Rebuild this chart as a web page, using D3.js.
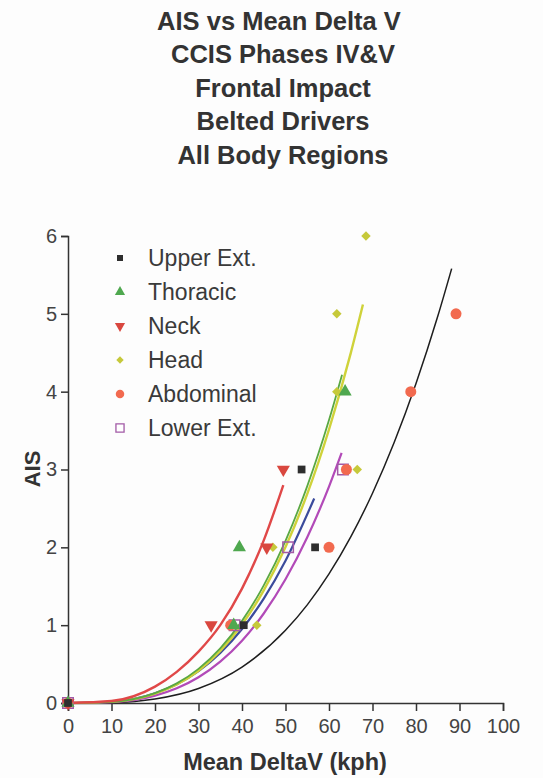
<!DOCTYPE html>
<html><head><meta charset="utf-8">
<script src="https://cdn.jsdelivr.net/npm/d3@7"></script>
<style>
body{margin:0;background:#fdfdfd;}
svg{display:block;font-family:"Liberation Sans",Arial,sans-serif;}
</style></head>
<body><svg id="c" width="543" height="778"></svg>
<script>
const titleLines = ["AIS vs Mean Delta V","CCIS Phases IV&V","Frontal Impact","Belted Drivers","All Body Regions"];
const xTicks = [0,10,20,30,40,50,60,70,80,90,100];
const yTicks = [0,1,2,3,4,5,6];
const seriesNames = ["Upper Ext.","Thoracic","Neck","Head","Abdominal","Lower Ext."];

// observed points (Mean DeltaV, AIS)
const upperExtV = [0, 40.4, 56.8, 53.7];
const upperExtAIS = [0, 1, 2, 3];
const thoracicV = [0, 38.1, 39.4, 63.7];
const thoracicAIS = [0, 1, 2, 4];
const neckV = [0, 32.9, 45.7, 49.5];
const neckAIS = [0, 1, 2, 3];
const headV = [0, 43.4, 47.1, 66.5, 61.8, 61.8, 68.5];
const headAIS = [0, 1, 2, 3, 4, 5, 6];
const abdominalV = [0, 37.4, 60.0, 64.0, 78.8, 89.2];
const abdominalAIS = [0, 1, 2, 3, 4, 5];
const lowerExtV = [0, 38.3, 50.6, 63.2];
const lowerExtAIS = [0, 1, 2, 3];

// fitted curves
const neckFitV = [0,10,20,25,30,35,40,45,49.5];
const neckFitAIS = [0,0.025,0.21,0.40,0.66,1.0,1.47,2.09,2.80];
const thoracicFitV = [0,10,20,25,30,35,40,45,50,55,60,63];
const thoracicFitAIS = [0,0.015,0.127,0.252,0.439,0.702,1.055,1.511,2.084,2.787,3.635,4.218];
const headFitV = [0,10,20,25,30,35,40,45,50,55,60,65,67.8];
const headFitAIS = [0,0.014,0.119,0.237,0.415,0.668,1.008,1.448,2.004,2.687,3.514,4.495,5.119];
const upperFitV = [0,10,20,25,30,35,40,45,50,56.6];
const upperFitAIS = [0,0.016,0.125,0.240,0.409,0.643,0.950,1.342,1.828,2.628];
const lowerFitV = [0,10,20,25,30,35,40,45,50,55,60,62.9];
const lowerFitAIS = [0,0.011,0.095,0.189,0.331,0.532,0.801,1.150,1.589,2.129,2.781,3.214];
const abdFitV = [0,10,20,30,40,50,55,60,65,70,75,80,85,88.2];
const abdFitAIS = [0,0.006,0.052,0.187,0.462,0.934,1.261,1.658,2.134,2.695,3.349,4.105,4.968,5.581];

const svg = d3.select("#c");
const x = d3.scaleLinear().domain([0,100]).range([68,503]);
const y = d3.scaleLinear().domain([0,6]).range([703,236]);
const ink = "#333";

// title
svg.append("g").selectAll("text").data(titleLines).join("text")
  .attr("x",(d,i)=>i===0?279:283).attr("y",(d,i)=>30+i*33.4)
  .attr("text-anchor","middle").attr("font-weight","bold").attr("font-size",25.5)
  .attr("fill",ink).text(d=>d);

// axes
const yAxis = svg.append("g").attr("transform","translate(68,0)")
  .call(d3.axisLeft(y).tickValues(yTicks).tickSize(7).tickPadding(4).tickFormat(d3.format("d")));
const xAxis = svg.append("g").attr("transform","translate(0,703)")
  .call(d3.axisBottom(x).tickValues(xTicks).tickSize(8).tickPadding(8).tickFormat(d3.format("d")));
[yAxis,xAxis].forEach(a=>{
  a.select(".domain").attr("stroke",ink).attr("stroke-width",1.5);
  a.selectAll(".tick line").attr("stroke",ink).attr("stroke-width",1.5);
  a.selectAll(".tick text").attr("fill","#444").attr("font-size",20).attr("font-family","Liberation Sans, Arial, sans-serif");
});

svg.append("text").attr("transform","translate(40,469) rotate(-90)")
  .attr("text-anchor","middle").attr("font-weight","bold").attr("font-size",22)
  .attr("fill",ink).text("AIS");
svg.append("text").attr("x",285).attr("y",770)
  .attr("text-anchor","middle").attr("font-weight","bold").attr("font-size",23.5)
  .attr("fill",ink).text("Mean DeltaV (kph)");

// curves
const curves = [
  {v:abdFitV, a:abdFitAIS, c:"#1e1e1e", w:1.5},
  {v:lowerFitV, a:lowerFitAIS, c:"#b24ab8", w:2.2},
  {v:upperFitV, a:upperFitAIS, c:"#3b4b9c", w:2.2},
  {v:headFitV, a:headFitAIS, c:"#cfd23a", w:2.4},
  {v:thoracicFitV, a:thoracicFitAIS, c:"#5aa842", w:1.8},
  {v:neckFitV, a:neckFitAIS, c:"#e04848", w:2.4}
];
const line = d3.line().x(d=>x(d[0])).y(d=>y(d[1])).curve(d3.curveMonotoneX);
svg.append("g").selectAll("path").data(curves).join("path")
  .attr("d",d=>line(d3.zip(d.v,d.a))).attr("fill","none")
  .attr("stroke",d=>d.c).attr("stroke-width",d=>d.w);

// markers
const series = [
  {name:seriesNames[0], v:upperExtV, a:upperExtAIS, type:d3.symbolSquare, size:60, rot:0, fill:"#2e2e2e", stroke:"none"},
  {name:seriesNames[1], v:thoracicV, a:thoracicAIS, type:d3.symbolTriangle, size:75, rot:0, fill:"#4fa84f", stroke:"none"},
  {name:seriesNames[2], v:neckV, a:neckAIS, type:d3.symbolTriangle, size:75, rot:180, fill:"#d9473f", stroke:"none"},
  {name:seriesNames[3], v:headV, a:headAIS, type:d3.symbolSquare, size:45, rot:45, fill:"#c6c93a", stroke:"none"},
  {name:seriesNames[4], v:abdominalV, a:abdominalAIS, type:d3.symbolCircle, size:95, rot:0, fill:"#f26a4f", stroke:"none"},
  {name:seriesNames[5], v:lowerExtV, a:lowerExtAIS, type:d3.symbolSquare, size:110, rot:0, fill:"none", stroke:"#a25aa6"}
];
const drawOrder = [5,4,3,1,2,0];
drawOrder.forEach(k=>{
  const s = series[k];
  svg.append("g").selectAll("path").data(d3.zip(s.v,s.a)).join("path")
    .attr("d",d3.symbol().type(s.type).size(s.size))
    .attr("transform",d=>`translate(${x(d[0])},${y(d[1])}) rotate(${s.rot})`)
    .attr("fill",s.fill).attr("stroke",s.stroke).attr("stroke-width",1.5);
});

// legend
const lg = svg.append("g");
series.forEach((s,i)=>{
  const yy = 258 + i*34;
  lg.append("path").attr("d",d3.symbol().type(s.type).size(s.size*0.6)())
    .attr("transform",`translate(120,${yy}) rotate(${s.rot})`)
    .attr("fill",s.fill==="none"?"#fff":s.fill).attr("stroke",s.stroke).attr("stroke-width",1.3);
  lg.append("text").attr("x",148).attr("y",yy+8).attr("font-size",23)
    .attr("fill","#3a3a3a").text(s.name);
});
</script></body></html>
